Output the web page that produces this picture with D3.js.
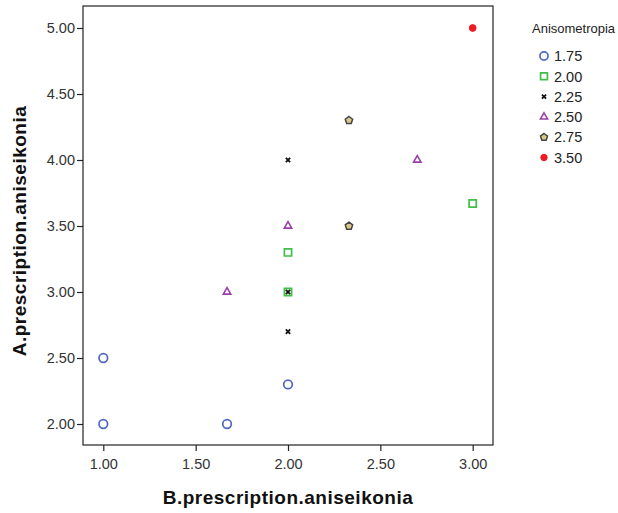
<!DOCTYPE html>
<html>
<head>
<meta charset="utf-8">
<script src="https://cdn.jsdelivr.net/npm/d3@7"></script>
<style>
  body { margin: 0; background: #fff; }
  svg text { font-family: "Liberation Sans", Arial, sans-serif; }
</style>
</head>
<body>
<div id="chart"></div>
<script>
// groups of Anisometropia
var groups = ["1.75", "2.00", "2.25", "2.50", "2.75", "3.50"];
// points: [B.prescription, A.prescription]
var pts175 = [[1.00, 2.50], [1.00, 2.00], [1.67, 2.00], [2.00, 2.30]];
var pts200 = [[2.00, 3.30], [2.00, 3.00], [3.00, 3.67]];
var pts225 = [[2.00, 4.00], [2.00, 3.00], [2.00, 2.70]];
var pts250 = [[2.70, 4.00], [2.00, 3.50], [1.67, 3.00]];
var pts275 = [[2.33, 4.30], [2.33, 3.50]];
var pts350 = [[3.00, 5.00]];
var xTicks = [1.00, 1.50, 2.00, 2.50, 3.00];
var yTicks = [2.00, 2.50, 3.00, 3.50, 4.00, 4.50, 5.00];

var series = [pts175, pts200, pts225, pts250, pts275, pts350];

var width = 618, height = 513;
var frame = {left: 83, right: 493, top: 6, bottom: 445};

var svg = d3.select("#chart").append("svg")
    .attr("width", width)
    .attr("height", height);

var x = d3.scaleLinear().domain([1, 3]).range([103.3, 472.7]);
var y = d3.scaleLinear().domain([2, 5]).range([424, 28]);

// small pentagon marker (SPSS style)
var symbolPentagon = {
    draw: function (ctx, size) {
        var r = Math.sqrt(size / 2.38);
        for (var k = 0; k < 5; k++) {
            var a = -Math.PI / 2 + k * 2 * Math.PI / 5;
            if (k === 0) ctx.moveTo(r * Math.cos(a), r * Math.sin(a));
            else ctx.lineTo(r * Math.cos(a), r * Math.sin(a));
        }
        ctx.closePath();
    }
};

// symbol styles per group
var styles = [
    {type: d3.symbolCircle, size: 58, fill: "none", stroke: "#5068c0", sw: 1.7},
    {type: d3.symbolSquare, size: 52, fill: "none", stroke: "#3fbf48", sw: 1.7},
    {type: d3.symbolX, size: 14, fill: "none", stroke: "#111", sw: 1.8},
    {type: d3.symbolTriangle, size: 24, fill: "none", stroke: "#9b3fa8", sw: 1.6},
    {type: symbolPentagon, size: 36, fill: "#d8c98a", stroke: "#444", sw: 1.5},
    {type: d3.symbolCircle, size: 36, fill: "#ee1c25", stroke: "#ee1c25", sw: 1}
];

// frame
svg.append("rect")
    .attr("x", frame.left).attr("y", frame.top)
    .attr("width", frame.right - frame.left)
    .attr("height", frame.bottom - frame.top)
    .attr("fill", "#fff")
    .attr("stroke", "#222")
    .attr("stroke-width", 1.2);

var xAxis = svg.append("g")
    .attr("transform", "translate(0," + frame.bottom + ")")
    .call(d3.axisBottom(x).tickValues(xTicks).tickFormat(d3.format(".2f")).tickSize(6).tickSizeOuter(0));
xAxis.select(".domain").remove();
xAxis.selectAll("line").attr("stroke", "#222").attr("stroke-width", 1.2);
xAxis.selectAll("text").style("font-size", "14.5px").attr("fill", "#333").attr("dy", "1.0em");

var yAxis = svg.append("g")
    .attr("transform", "translate(" + frame.left + ",0)")
    .call(d3.axisLeft(y).tickValues(yTicks).tickFormat(d3.format(".2f")).tickSize(6).tickSizeOuter(0));
yAxis.select(".domain").remove();
yAxis.selectAll("line").attr("stroke", "#222").attr("stroke-width", 1.2);
yAxis.selectAll("text").style("font-size", "14.5px").attr("fill", "#333").attr("x", -8);

// axis titles
svg.append("text")
    .attr("x", 288).attr("y", 504)
    .attr("text-anchor", "middle")
    .style("font-weight", "bold")
    .style("font-size", "19px")
    .style("letter-spacing", "0.5px")
    .attr("fill", "#111")
    .text("B.prescription.aniseikonia");

svg.append("text")
    .attr("transform", "translate(26,231) rotate(-90)")
    .attr("text-anchor", "middle")
    .style("font-weight", "bold")
    .style("font-size", "19px")
    .style("letter-spacing", "0.5px")
    .attr("fill", "#111")
    .text("A.prescription.aniseikonia");

// points
series.forEach(function (pts, i) {
    var st = styles[i];
    var sym = d3.symbol().type(st.type).size(st.size);
    svg.append("g").selectAll("path")
        .data(pts)
        .enter().append("path")
        .attr("transform", function (d) {
            return "translate(" + x(d[0]) + "," + y(d[1]) + ")";
        })
        .attr("d", sym)
        .attr("fill", st.fill)
        .attr("stroke", st.stroke)
        .attr("stroke-width", st.sw);
});

// legend
var legend = svg.append("g");
legend.append("text")
    .attr("x", 532).attr("y", 33)
    .style("font-size", "13px")
    .attr("fill", "#222")
    .text("Anisometropia");

var item = legend.selectAll(".item")
    .data(groups)
    .enter().append("g")
    .attr("class", "item")
    .attr("transform", function (d, i) { return "translate(544," + (56 + i * 20.3) + ")"; });

item.append("path")
    .attr("d", function (d, i) {
        var st = styles[i];
        return d3.symbol().type(st.type).size(st.size * 0.9)();
    })
    .attr("fill", function (d, i) { return styles[i].fill; })
    .attr("stroke", function (d, i) { return styles[i].stroke; })
    .attr("stroke-width", function (d, i) { return styles[i].sw; });

item.append("text")
    .attr("x", 10)
    .attr("dy", "0.36em")
    .style("font-size", "14.5px")
    .attr("fill", "#222")
    .text(function (d) { return d; });
</script>
</body>
</html>
